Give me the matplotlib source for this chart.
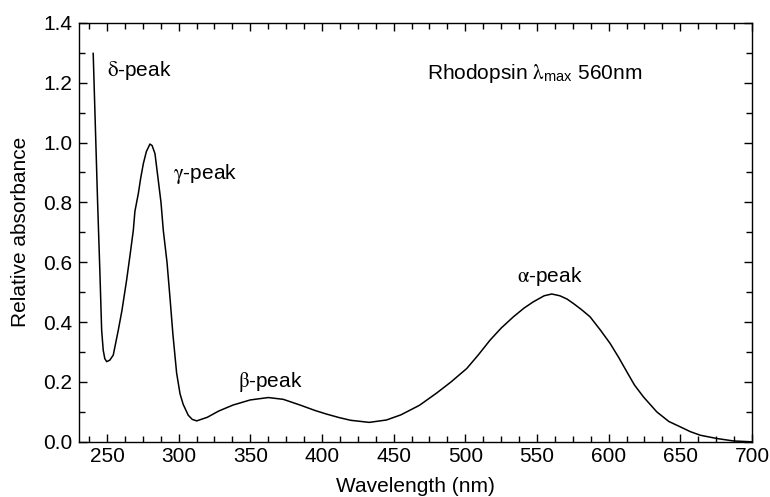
import matplotlib
matplotlib.use("Agg")
from matplotlib import pyplot as plt
from matplotlib.ticker import MultipleLocator

plt.rcParams['font.family'] = ['Liberation Sans', 'DejaVu Sans']
plt.rcParams['mathtext.fontset'] = 'stix'

# Rhodopsin absorbance spectrum
wavelength = [240.4, 243.5, 245.1, 246.3, 247.4, 248.5, 249.8, 252, 254.4, 257.9,
              260.5, 263.7, 266, 268.4, 269.5, 271.9, 273.5, 275.4, 277.5, 280,
              281.5, 283.5, 285.8, 287.7, 289.3, 291.9, 294, 296, 298.6, 301,
              303.2, 306.7, 309.5, 312.6, 320, 328, 338, 350, 362.6, 373, 384.7,
              395, 403, 412, 420, 433, 445, 455, 468, 480, 490, 501, 509, 517.3,
              525, 533.6, 541, 547.5, 555, 560.3, 566, 571, 575.5, 581, 587, 594,
              601, 607, 612.7, 618, 624.3, 633.6, 642, 650, 657, 664, 675.6, 687, 700]
absorbance = [1.298, 0.797, 0.563, 0.373, 0.306, 0.278, 0.268, 0.273, 0.29, 0.373,
              0.44, 0.54, 0.62, 0.707, 0.77, 0.83, 0.88, 0.93, 0.97, 0.995,
              0.99, 0.963, 0.874, 0.8, 0.707, 0.6, 0.48, 0.36, 0.23, 0.16,
              0.125, 0.089, 0.075, 0.07, 0.082, 0.103, 0.123, 0.14, 0.148, 0.142, 0.123,
              0.105, 0.093, 0.081, 0.072, 0.065, 0.073, 0.09, 0.122, 0.163, 0.2, 0.245, 0.29, 0.34,
              0.38, 0.418, 0.447, 0.468, 0.488, 0.494, 0.488, 0.477, 0.462, 0.442, 0.418, 0.375,
              0.329, 0.282, 0.234, 0.19, 0.150, 0.100, 0.068, 0.05, 0.034, 0.022, 0.011, 0.003, 0.0]

peak_labels = [r'$\mathrm{\delta}$-peak', r'$\mathrm{\gamma}$-peak',
               r'$\mathrm{\beta}$-peak', r'$\mathrm{\alpha}$-peak']
peak_x = [250, 296, 363.7, 559]
peak_y = [1.24, 0.894, 0.2, 0.553]
peak_ha = ['left', 'left', 'center', 'center']

fig = plt.figure(figsize=(7.7, 4.97), dpi=100)
ax = fig.add_axes([0.1026, 0.111, 0.874, 0.843])

ax.plot(wavelength, absorbance, color='black', linewidth=1.1, solid_joinstyle='round')

for lab, x, y, ha in zip(peak_labels, peak_x, peak_y, peak_ha):
    ax.text(x, y, lab, ha=ha, va='center', fontsize=15)

ax.text(473, 1.23, r'Rhodopsin $\mathrm{\lambda}_{\mathregular{max}}$ 560nm',
        ha='left', va='center', fontsize=15)

ax.set_xlim(230.5, 700)
ax.set_ylim(0, 1.4)
ax.xaxis.set_major_locator(MultipleLocator(50))
ax.xaxis.set_minor_locator(MultipleLocator(12.5))
ax.yaxis.set_major_locator(MultipleLocator(0.2))
ax.yaxis.set_minor_locator(MultipleLocator(0.1))
ax.yaxis.set_major_formatter(plt.FormatStrFormatter('%.1f'))

ax.tick_params(which='both', direction='in', top=True, right=True, labelsize=15, width=1)
ax.tick_params(which='major', length=6)
ax.tick_params(which='minor', length=4)
ax.tick_params(axis='y', pad=5)
for s in ax.spines.values():
    s.set_linewidth(1)

ax.set_xlabel('Wavelength (nm)', fontsize=15, labelpad=8)
ax.set_ylabel('Relative absorbance', fontsize=15, labelpad=9)

fig.savefig('out.png', dpi=100)
